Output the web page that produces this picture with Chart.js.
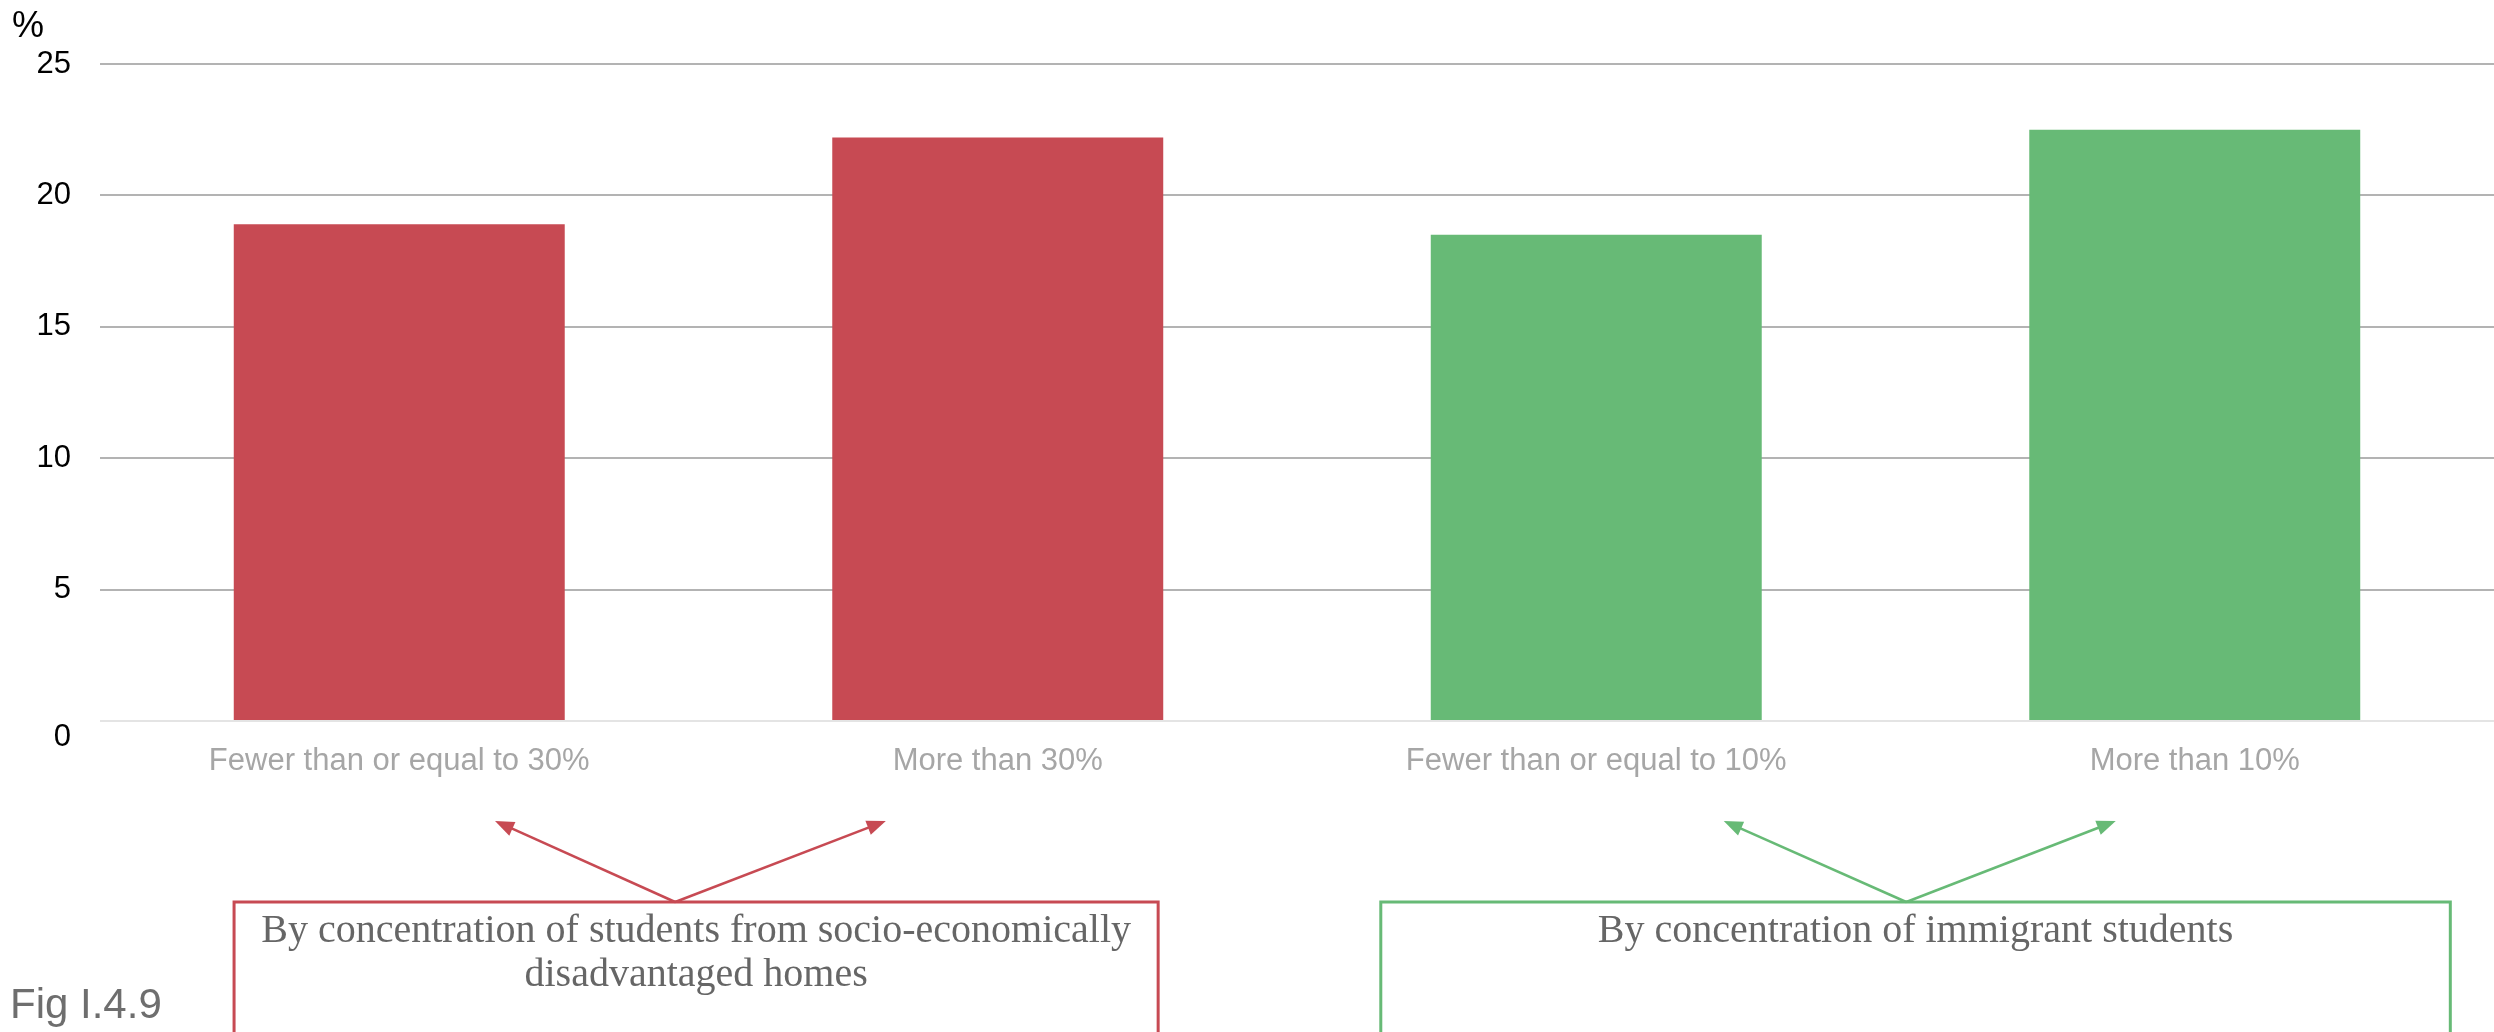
<!DOCTYPE html>
<html>
<head>
<meta charset="utf-8">
<script src="https://cdn.jsdelivr.net/npm/chart.js@4/dist/chart.umd.min.js"></script>
<style>
  html, body { margin: 0; padding: 0; background: #fff; }
  #wrap { width: 2494px; height: 1032px; position: relative; }
</style>
</head>
<body>
<div id="wrap"><canvas id="share-chart" width="2494" height="1032"></canvas></div>
<script>
// categories and shares (%)
const categories = ["Fewer than or equal to 30%", "More than 30%", "Fewer than or equal to 10%", "More than 10%"];
const shares = [18.9, 22.2, 18.5, 22.5];
const groupOf = [0, 0, 1, 1];
const groupTitles = [
  ["By concentration of students from socio-economically", "disadvantaged homes"],
  ["By concentration of immigrant students"]
];
const yMax = 25;
const yStep = 5;
const figLabel = "Fig I.4.9";
const unitLabel = "%";

const RED = "#c74a53";
const GREEN = "#67ba76";
const groupColors = [RED, GREEN];

// box + arrow geometry, in category widths from the left edge of the plot
const groupShapes = [
  { left: 0.224, right: 1.768, origin: 0.961, tips: [0.660, 1.313] },
  { left: 2.140, right: 3.927, origin: 3.018, tips: [2.713, 3.368] }
];

function arrow(ctx, x0, y0, x1, y1, color) {
  const ang = Math.atan2(y1 - y0, x1 - x0);
  const len = 19, half = 7.5;
  ctx.strokeStyle = color;
  ctx.fillStyle = color;
  ctx.lineWidth = 2.5;
  ctx.beginPath();
  ctx.moveTo(x0, y0);
  ctx.lineTo(x1 - Math.cos(ang) * len * 0.8, y1 - Math.sin(ang) * len * 0.8);
  ctx.stroke();
  ctx.beginPath();
  ctx.moveTo(x1, y1);
  ctx.lineTo(x1 - Math.cos(ang) * len - Math.sin(ang) * half, y1 - Math.sin(ang) * len + Math.cos(ang) * half);
  ctx.lineTo(x1 - Math.cos(ang) * len + Math.sin(ang) * half, y1 - Math.sin(ang) * len - Math.cos(ang) * half);
  ctx.closePath();
  ctx.fill();
}

// grouping boxes, arrows, unit and figure label
const annotations = {
  id: "annotations",
  afterDraw(chart) {
    const ctx = chart.ctx;
    const x = chart.scales.x;
    const u = x.width / categories.length;
    const boxTop = 902, tipY = 821, boxBottom = 1040;
    ctx.save();

    groupShapes.forEach((g, i) => {
      const color = groupColors[i];
      const left = x.left + g.left * u, right = x.left + g.right * u;
      ctx.strokeStyle = color;
      ctx.lineWidth = 3;
      ctx.strokeRect(left, boxTop, right - left, boxBottom - boxTop);

      const ox = x.left + g.origin * u;
      g.tips.forEach(t => arrow(ctx, ox, boxTop, x.left + t * u, tipY, color));

      ctx.fillStyle = "#666666";
      ctx.font = "40px 'Liberation Serif', serif";
      ctx.textAlign = "center";
      ctx.textBaseline = "alphabetic";
      groupTitles[i].forEach((line, k) => {
        ctx.fillText(line, (left + right) / 2, 942 + k * 44);
      });
    });

    ctx.fillStyle = "#000";
    ctx.font = "36px 'Liberation Sans', Arial, sans-serif";
    ctx.textAlign = "left";
    ctx.fillText(unitLabel, 12, 37);

    ctx.fillStyle = "#6e6e6e";
    ctx.font = "42px 'Liberation Sans', Arial, sans-serif";
    ctx.fillText(figLabel, 10, 1018);
    ctx.restore();
  }
};

new Chart(document.getElementById("share-chart"), {
  type: "bar",
  data: {
    labels: categories,
    datasets: [{
      data: shares,
      backgroundColor: groupOf.map(g => groupColors[g]),
      barPercentage: 0.553,
      categoryPercentage: 1.0
    }]
  },
  options: {
    responsive: false,
    animation: false,
    devicePixelRatio: 1,
    layout: { padding: { top: 64, right: 0, bottom: 0, left: 0 } },
    plugins: { legend: { display: false }, tooltip: { enabled: false } },
    scales: {
      x: {
        grid: { display: false, drawTicks: false },
        border: { display: false },
        ticks: {
          color: "#a6a6a6",
          font: { family: "'Liberation Sans', Arial, sans-serif", size: 31 },
          padding: 22,
          maxRotation: 0,
          autoSkip: false
        },
        afterFit(scale) { scale.height = 311; }
      },
      y: {
        min: 0,
        max: yMax,
        grid: {
          drawTicks: false,
          lineWidth: 2,
          color: c => c.tick && c.tick.value === 0 ? "#e4e4e4" : "#b3b3b3"
        },
        border: { display: false },
        ticks: {
          stepSize: yStep,
          color: "#000",
          font: { family: "'Liberation Sans', Arial, sans-serif", size: 31, lineHeight: 1.03 },
          padding: 29,
          // the zero label sits just below the baseline
          callback: v => v === 0 ? ["", "0"] : String(v)
        },
        afterFit(scale) { scale.width = 100; }
      }
    }
  },
  plugins: [annotations]
});
</script>
</body>
</html>
